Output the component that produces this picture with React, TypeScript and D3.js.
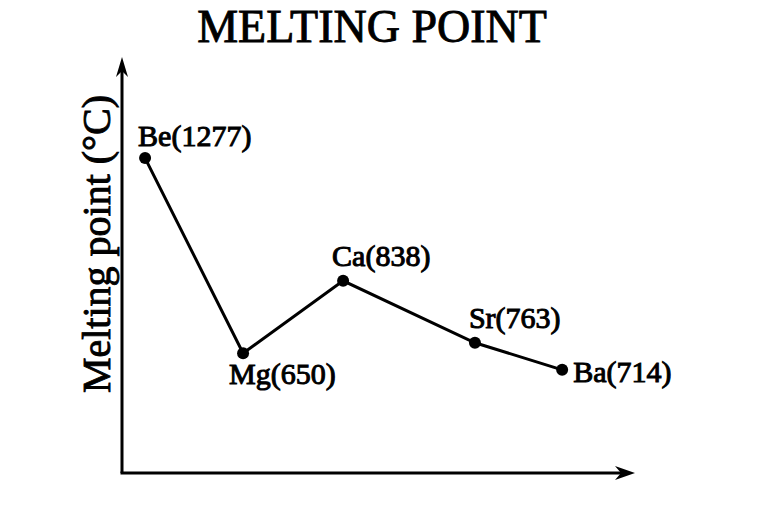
import React from "react";
import * as d3 from "d3";

// elements, their melting points (labels) and where they sit on the unscaled chart (0-100 units)
const elements = ["Be", "Mg", "Ca", "Sr", "Ba"];
const meltingPoints = [1277, 650, 838, 763, 714];
const xLevels = [4.5, 23.6, 43.1, 68.8, 85.8];
const yLevels = [75.7, 28.8, 46.2, 31.3, 24.8];

// label offset from each point (dx, dy of text start / baseline)
const labelOffsets: [number, number][] = [
  [-7, -12],
  [-14, 31],
  [-11, -15],
  [-6, -15],
  [11, 12],
];

const W = 765;
const H = 517;
const origin = { x: 122, y: 473 };
const xEnd = 635;
const yEnd = 57;
const font = "'Liberation Serif', 'Times New Roman', serif";

export default function App() {
  const x = d3.scaleLinear().domain([0, 100]).range([origin.x, xEnd]);
  const y = d3.scaleLinear().domain([0, 100]).range([origin.y, yEnd]);

  const pts = elements.map((el, i) => ({
    el,
    mp: meltingPoints[i],
    cx: x(xLevels[i]),
    cy: y(yLevels[i]),
  }));

  const line = d3
    .line<{ cx: number; cy: number }>()
    .x((d) => d.cx)
    .y((d) => d.cy);

  // notched arrow head pointing right, tip at origin
  const arrow = (len: number, half: number, notch: number) =>
    `M0,0 L${-len},${-half} L${-len + notch},0 L${-len},${half} Z`;

  return (
    <svg
      width={W}
      height={H}
      style={{ position: "absolute", left: 0, top: 0, background: "#fff" }}
      fontFamily={font}
    >
      <text x={372} y={42} textAnchor="middle" fontSize={46} fill="#000" stroke="#000" strokeWidth={0.9}>
        MELTING POINT
      </text>

      <text
        transform={`translate(110,244) rotate(-90)`}
        textAnchor="middle"
        fontSize={40}
        fill="#000"
        stroke="#000"
        strokeWidth={0.9}
      >
        Melting point (°C)
      </text>

      {/* axes */}
      <line x1={origin.x} y1={origin.y} x2={origin.x} y2={yEnd + 10} stroke="#000" strokeWidth={3} />
      <line x1={origin.x - 1.5} y1={origin.y} x2={xEnd - 10} y2={origin.y} stroke="#000" strokeWidth={3} />
      <path d={arrow(20, 6, 6)} transform={`translate(${origin.x},${yEnd}) rotate(-90)`} fill="#000" />
      <path d={arrow(20, 7, 6)} transform={`translate(${xEnd},${origin.y})`} fill="#000" />

      <path d={line(pts) ?? ""} fill="none" stroke="#000" strokeWidth={3} />

      {pts.map((p, i) => (
        <g key={p.el}>
          <circle cx={p.cx} cy={p.cy} r={6} fill="#000" />
          <text
            x={p.cx + labelOffsets[i][0]}
            y={p.cy + labelOffsets[i][1]}
            fontSize={30}
            fill="#000"
            stroke="#000"
            strokeWidth={1}
          >
            {`${p.el}(${p.mp})`}
          </text>
        </g>
      ))}
    </svg>
  );
}
